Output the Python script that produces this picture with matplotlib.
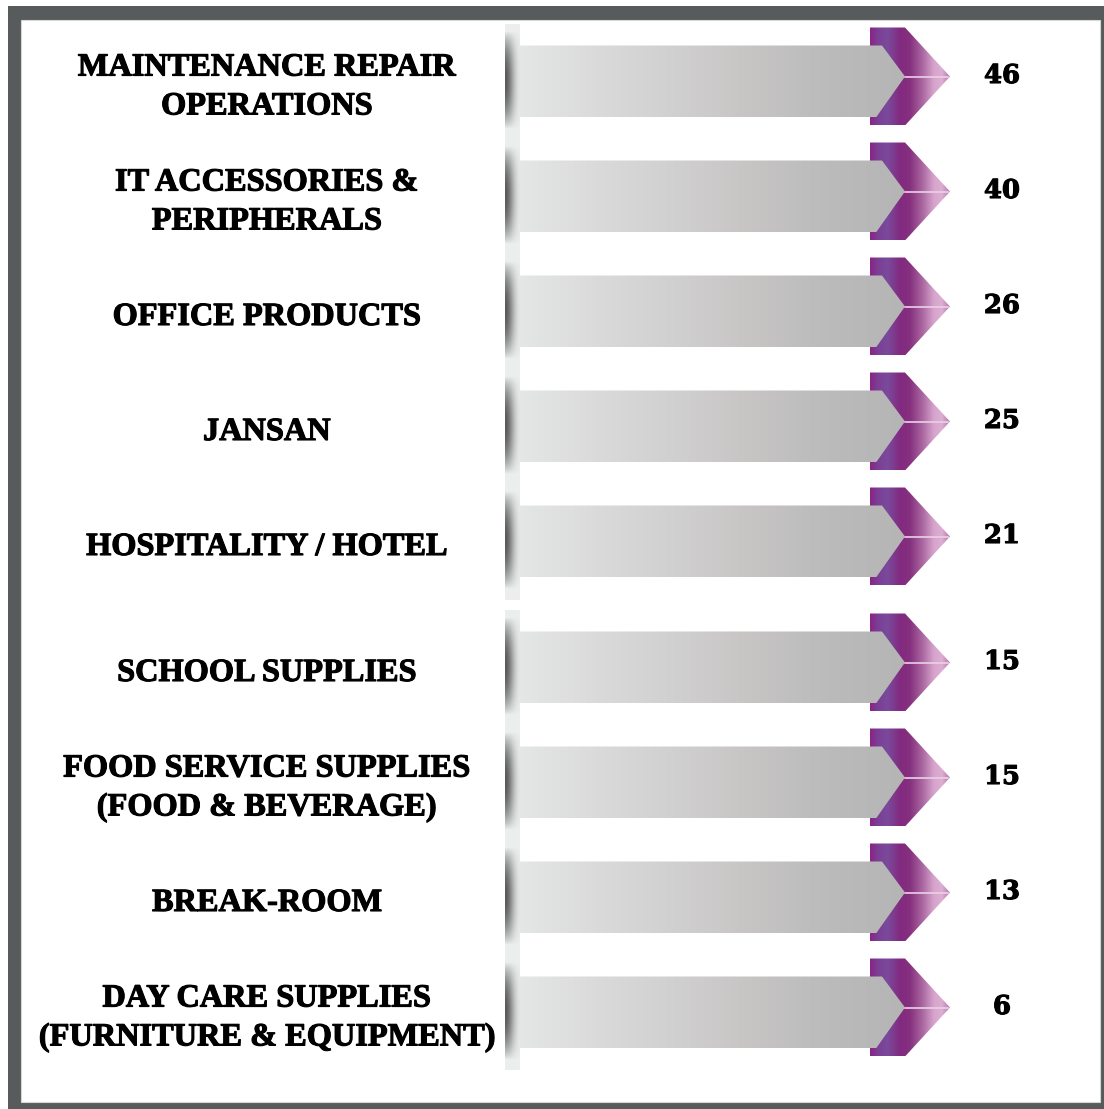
import numpy as np
import matplotlib
matplotlib.use("Agg")
import matplotlib.pyplot as plt
import matplotlib.patheffects as pe
from matplotlib.patches import Polygon, Rectangle
from matplotlib.colors import LinearSegmentedColormap

# --- data ---
categories = [
    "MAINTENANCE REPAIR\nOPERATIONS",
    "IT ACCESSORIES &\nPERIPHERALS",
    "OFFICE PRODUCTS",
    "JANSAN",
    "HOSPITALITY / HOTEL",
    "SCHOOL SUPPLIES",
    "FOOD SERVICE SUPPLIES\n(FOOD & BEVERAGE)",
    "BREAK-ROOM",
    "DAY CARE SUPPLIES\n(FURNITURE & EQUIPMENT)",
]
values = [46, 40, 26, 25, 21, 15, 15, 13, 6]

W, H = 1104, 1109
fig = plt.figure(figsize=(W / 100, H / 100), dpi=100)
ax = fig.add_axes([0, 0, 1, 1])

# frame
ax.add_patch(Rectangle((8, 6), W, H, facecolor="#575b5b", edgecolor="none", zorder=0))
ax.add_patch(Rectangle((21, 20), 1079, 1082, facecolor="white",
                       edgecolor="#d6d6d6", lw=0.8, zorder=0.5))

gray_cmap = LinearSegmentedColormap.from_list(
    "gray_arrow", ["#e4e7e5", "#dadada", "#d1d0d0", "#c7c4c4", "#bbbbbb", "#b5b5b5"])
purple_cmap = LinearSegmentedColormap.from_list(
    "purple_chev", [(0, "#8a2486"), (0.1, "#7b3f95"), (0.22, "#7a4a9b"),
                    (0.38, "#822a80"), (0.5, "#86307f"), (0.65, "#a8649e"),
                    (0.8, "#d6a4cc"), (0.9, "#dcaed2"), (1, "#b878ae")])

# light vertical strip behind the bar starts
for y0, y1 in [(24, 600), (610, 1070)]:
    ax.add_patch(Rectangle((505, y0), 15, y1 - y0, facecolor="#eceeee",
                           edgecolor="none", zorder=1))

rows = np.arange(len(categories))
yc = 81.5 + rows * 115 + np.where(rows >= 5, 11, 0)
bar_h = 72
x0, x_body, x_tip = 520, 879, 905
ch_x0, ch_x1, ch_tip = 870, 905, 950
ch_h = 98
grad = np.linspace(0, 1, 256).reshape(1, -1)

# shadow image (dark at left edge, fading right and to top/bottom)
yy = np.linspace(-1, 1, 120)[:, None]
xx = np.linspace(0, 1, 40)[None, :]
shadow = np.zeros((120, 40, 4))
shadow[..., :3] = 0.2
shadow[..., 3] = 0.8 * np.clip(1 - yy ** 2, 0, 1) ** 0.9 * np.exp(-(xx / 0.6) ** 2)

for i, c in enumerate(yc):
    tip_y = c - 5

    ax.imshow(shadow, extent=(505, 520, c + 48, c - 50), aspect="auto",
              zorder=2, interpolation="bilinear")

    # purple chevron
    chev = Polygon([(ch_x0, tip_y - ch_h / 2), (ch_x1, tip_y - ch_h / 2), (ch_tip, tip_y),
                    (ch_x1, tip_y + ch_h / 2), (ch_x0, tip_y + ch_h / 2)],
                   closed=True, facecolor="none", edgecolor="none")
    ax.add_patch(chev)
    im = ax.imshow(grad, cmap=purple_cmap, aspect="auto", zorder=3,
                   extent=(ch_x0, ch_tip, tip_y + ch_h / 2, tip_y - ch_h / 2))
    im.set_clip_path(chev)
    ax.plot([ch_x1, ch_tip - 2], [tip_y, tip_y], color="#ecd0e6", lw=1.2, zorder=3.5)

    # gray arrow body
    arrow = Polygon([(x0, c - bar_h / 2), (x_body + 3, c - bar_h / 2), (x_tip, tip_y),
                     (x_body - 3, c + bar_h / 2), (x0, c + bar_h / 2)],
                    closed=True, facecolor="none", edgecolor="none")
    ax.add_patch(arrow)
    im = ax.imshow(grad, cmap=gray_cmap, aspect="auto", zorder=4,
                   extent=(x0, x_tip, c + bar_h / 2, c - bar_h / 2))
    im.set_clip_path(arrow)

    heavy = [pe.withStroke(linewidth=0.8, foreground="black")]
    ax.text(267, c + 6, categories[i], ha="center", va="center", fontsize=23.3,
            fontweight="bold", family="Liberation Serif", linespacing=1.45,
            color="black", zorder=5, path_effects=heavy)
    ax.text(1002, c - 6, str(values[i]), ha="center", va="center", fontsize=18.6,
            fontweight="bold", family="DejaVu Serif", color="black", zorder=5,
            path_effects=heavy)

ax.set_xlim(0, W)
ax.set_ylim(H, 0)
ax.axis("off")

fig.savefig("out.png", dpi=100, facecolor="white")
